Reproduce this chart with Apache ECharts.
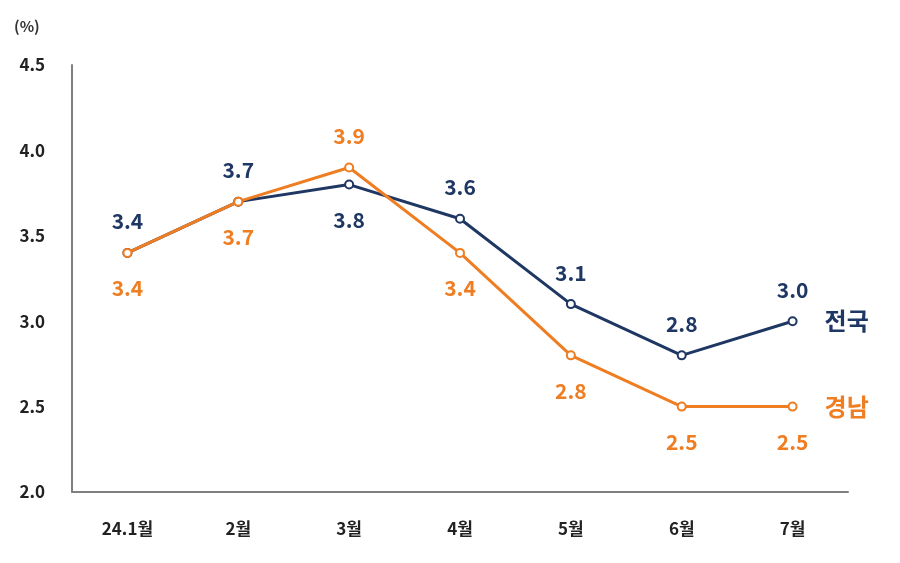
<!DOCTYPE html>
<html><head><meta charset="utf-8">
<script src="https://cdn.jsdelivr.net/npm/echarts@6/dist/echarts.min.js"></script>
<style>html,body{margin:0;padding:0;background:#fff}#c{width:900px;height:563px}</style>
</head><body><div id="c"></div>
<script>
const categories = ['24.1월','2월','3월','4월','5월','6월','7월'];
const nationalName = '전국';
const nationalValues = [3.4, 3.7, 3.8, 3.6, 3.1, 2.8, 3.0];
const gyeongnamName = '경남';
const gyeongnamValues = [3.4, 3.7, 3.9, 3.4, 2.8, 2.5, 2.5];

const navy = '#1f3763';
const orange = '#ef7d22';
const font = '"Noto Sans CJK KR", "Noto Sans", sans-serif';

function buildData(values, belowIdx) {
  return values.map((v, i) => {
    const below = belowIdx.includes(i);
    return {
      value: v,
      label: { position: below ? 'bottom' : 'top', distance: below ? 20 : 16 }
    };
  });
}

const chart = echarts.init(document.getElementById('c'));
chart.setOption({
  animation: false,
  grid: { left: 72, right: 52, top: 65, bottom: 71 },
  graphic: [{ type: 'text', left: 14, top: 19, style: { text: '(%)', font: '600 15px ' + font, fill: '#333' } }],
  xAxis: {
    type: 'category', data: categories, boundaryGap: true,
    axisLine: { lineStyle: { color: '#7f7f7f', width: 2 } },
    axisTick: { show: false },
    axisLabel: { color: '#222', fontSize: 17, fontWeight: 'bold', fontFamily: font, margin: 28 }
  },
  yAxis: {
    type: 'value', min: 2.0, max: 4.5, interval: 0.5,
    axisLine: { show: true, lineStyle: { color: '#7f7f7f', width: 2 } },
    axisTick: { show: false },
    splitLine: { show: false },
    axisLabel: { color: '#222', fontSize: 17, fontWeight: 'bold', fontFamily: font, margin: 27,
      formatter: v => v.toFixed(1) }
  },
  series: [
    {
      name: nationalName, type: 'line', z: 2,
      data: buildData(nationalValues, [2]),
      symbol: 'emptyCircle', symbolSize: 8,
      lineStyle: { color: navy, width: 3 },
      itemStyle: { color: navy, borderWidth: 2 },
      label: { show: true, color: navy, fontSize: 21, fontWeight: 'bold', fontFamily: font, formatter: p => p.value.toFixed(1) },
      endLabel: { show: true, formatter: nationalName, color: navy, fontSize: 24, fontWeight: 'bold', fontFamily: font, distance: 32 }
    },
    {
      name: gyeongnamName, type: 'line', z: 3,
      data: buildData(gyeongnamValues, [0,1,3,4,5,6]),
      symbol: 'emptyCircle', symbolSize: 8,
      lineStyle: { color: orange, width: 3 },
      itemStyle: { color: orange, borderWidth: 2 },
      label: { show: true, color: orange, fontSize: 21, fontWeight: 'bold', fontFamily: font, formatter: p => p.value.toFixed(1) },
      endLabel: { show: true, formatter: gyeongnamName, color: orange, fontSize: 24, fontWeight: 'bold', fontFamily: font, distance: 32 }
    }
  ]
});
</script></body></html>
